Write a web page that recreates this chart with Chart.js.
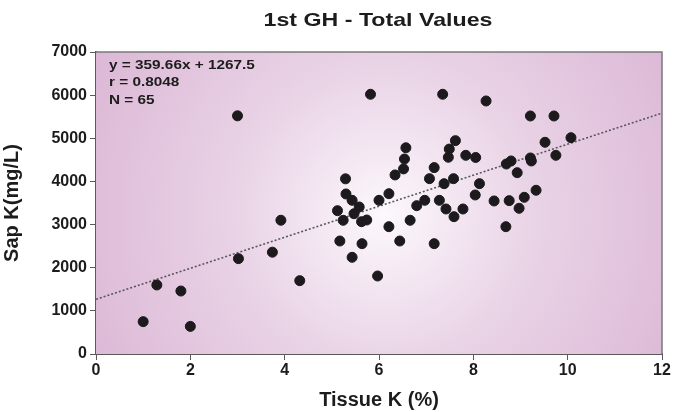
<!DOCTYPE html>
<html>
<head>
<meta charset="utf-8">
<script src="https://cdn.jsdelivr.net/npm/chart.js@4"></script>
<style>
  html, body { margin: 0; padding: 0; background: #fff; }
  #wrap { width: 688px; height: 412px; position: relative; }
</style>
</head>
<body>
<div id="wrap"><canvas id="kChart"></canvas></div>
<script>
// === Data ===
const tissueK = [1.00, 1.29, 1.80, 2.00, 3.02, 3.74, 3.92, 3.00, 4.32, 5.82,
  7.35, 6.57, 6.54, 6.52, 6.34, 5.29, 7.62, 7.49, 7.47, 7.84,
  8.05, 7.17, 7.07, 7.38, 7.58, 8.13, 5.30, 5.43, 5.58, 5.12,
  5.47, 5.24, 5.63, 5.74, 5.17, 5.64, 5.43, 5.97, 6.00, 6.21,
  6.21, 6.44, 6.66, 6.80, 6.97, 7.17, 7.28, 7.42, 7.59, 7.78,
  8.04, 8.27, 9.21, 9.71, 9.52, 10.07, 9.75, 9.21, 9.23, 8.80,
  8.70, 8.93, 8.44, 8.76, 9.08, 9.33, 8.97, 8.69];
const sapK = [750, 1600, 1460, 640, 2210, 2360, 3100, 5520, 1700, 6020,
  6020, 4780, 4520, 4290, 4150, 4060, 4945, 4750, 4560, 4605,
  4555, 4320, 4064, 3948, 4064, 3948, 3709, 3562, 3408, 3322,
  3252, 3099, 3067, 3106, 2619, 2557, 2241, 1808, 3562, 3716,
  2951, 2619, 3099, 3438, 3562, 2557, 3562, 3361, 3183, 3361,
  3686, 5865, 5517, 5517, 4907, 5014, 4605, 4544, 4474, 4474,
  4404, 4203, 3547, 3555, 3632, 3795, 3377, 2951];

const slope = 359.66;
const intercept = 1267.5;
const trendX = [0, 12];
const statLines = ["y = 359.66x + 1267.5", "r = 0.8048", "N = 65"];
const chartTitle = "1st GH - Total Values";

const points = tissueK.map((x, i) => ({ x: x, y: sapK[i] }));
const trend = trendX.map(x => ({ x: x, y: slope * x + intercept }));

const FONT = "Arial, 'Liberation Sans', sans-serif";
const INK = "#1c1c1c";

// draw text a little wider than the font normally is, like the original
function wideText(ctx, text, x, y, sx) {
  ctx.save();
  ctx.translate(x, y);
  ctx.scale(sx, 1);
  ctx.fillText(text, 0, 0);
  ctx.restore();
}

// === Plot background, frame, title and stats text ===
const decorPlugin = {
  id: "decor",
  beforeDatasetsDraw(chart) {
    const { ctx, chartArea: a } = chart;
    ctx.save();
    const cx = a.left + (a.right - a.left) * 0.51;
    const cy = a.top + (a.bottom - a.top) * 0.54;
    const g = ctx.createRadialGradient(cx, cy, 0, cx, cy, 330);
    g.addColorStop(0, "#fcf8fc");
    g.addColorStop(0.45, "#e9d3e6");
    g.addColorStop(1, "#dcb8d6");
    ctx.fillStyle = g;
    ctx.fillRect(a.left, a.top, a.right - a.left, a.bottom - a.top);
    // top / right frame
    ctx.strokeStyle = "#7a7a7a";
    ctx.lineWidth = 1.5;
    ctx.beginPath();
    ctx.moveTo(a.left, a.top);
    ctx.lineTo(a.right, a.top);
    ctx.lineTo(a.right, a.bottom);
    ctx.stroke();
    ctx.restore();
  },
  afterDraw(chart) {
    const { ctx, chartArea: a } = chart;
    ctx.save();
    ctx.fillStyle = INK;
    ctx.textBaseline = "middle";
    ctx.textAlign = "center";
    ctx.font = "bold 19px " + FONT;
    wideText(ctx, chartTitle, (a.left + a.right) / 2 - 1, 21, 1.22);
    ctx.textAlign = "left";
    ctx.font = "bold 13px " + FONT;
    statLines.forEach((t, i) => wideText(ctx, t, a.left + 13, a.top + 13 + i * 17.5, 1.18));
    ctx.restore();
  }
};

const ctx = document.getElementById("kChart").getContext("2d");
new Chart(ctx, {
  type: "scatter",
  data: {
    datasets: [{
      label: "Sap K",
      data: points,
      backgroundColor: "#1c1a1c",
      borderColor: "#1c1a1c",
      pointRadius: 5,
      pointHoverRadius: 5,
      order: 1
    }, {
      type: "line",
      label: "Trend",
      data: trend,
      borderColor: "#555",
      borderWidth: 1.5,
      borderDash: [2, 2],
      pointRadius: 0,
      fill: false,
      order: 2
    }]
  },
  options: {
    responsive: true,
    maintainAspectRatio: false,
    animation: false,
    layout: { padding: { top: 52, right: 26, left: 0, bottom: 0 } },
    plugins: {
      legend: { display: false },
      title: { display: false },
      tooltip: { enabled: false }
    },
    scales: {
      x: {
        type: "linear",
        min: 0,
        max: 12,
        ticks: {
          stepSize: 2,
          color: INK,
          font: { family: FONT, size: 16, weight: "bold" },
          padding: 1
        },
        grid: { display: true, drawOnChartArea: false, drawTicks: true, tickLength: 6, color: "#5a5a5a" },
        border: { display: true, color: "#5a5a5a", width: 2 },
        title: {
          display: true,
          text: "Tissue K (%)",
          color: INK,
          font: { family: FONT, size: 20, weight: "bold" },
          padding: { top: 1, bottom: 0 }
        },
        afterFit: s => { s.height = 58; }
      },
      y: {
        min: 0,
        max: 7000,
        ticks: {
          stepSize: 1000,
          color: INK,
          font: { family: FONT, size: 16, weight: "bold" },
          padding: 3,
          callback: v => String(v)
        },
        grid: { display: true, drawOnChartArea: false, drawTicks: true, tickLength: 6, color: "#5a5a5a" },
        border: { display: true, color: "#5a5a5a", width: 2 },
        title: {
          display: true,
          text: "Sap K(mg/L)",
          color: INK,
          font: { family: FONT, size: 20, weight: "bold" },
          padding: { top: 0, bottom: 4 }
        },
        afterFit: s => { s.width = 96; }
      }
    }
  },
  plugins: [decorPlugin]
});
</script>
</body>
</html>
